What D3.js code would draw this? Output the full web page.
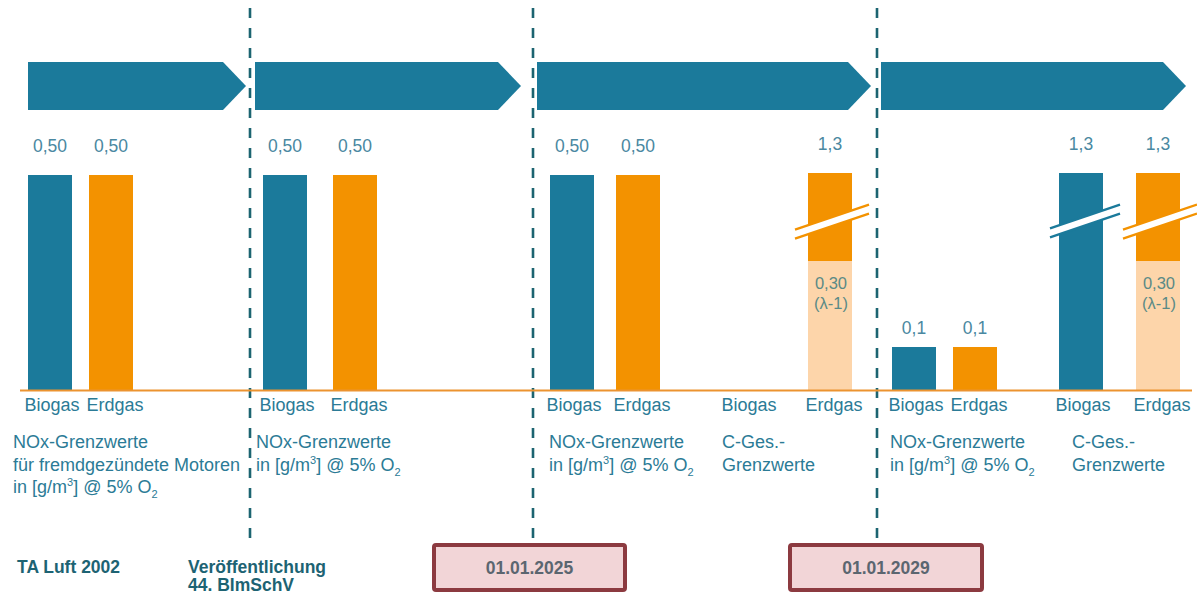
<!DOCTYPE html>
<html><head><meta charset="utf-8">
<script src="https://cdn.jsdelivr.net/npm/d3@7"></script>
<style>
body{margin:0;background:#fff;}
svg{display:block;font-family:"Liberation Sans",Arial,Helvetica,sans-serif;}
</style>
</head><body>
<svg id="chart" width="1197" height="595"></svg>
<script>
// ---------------- DATA ----------------
const categories = ["Biogas", "Erdgas"];
const groups = ["TA Luft 2002 NOx", "44. BImSchV NOx", "2025 NOx", "2025 C-Ges.", "2029 NOx", "2029 C-Ges."];
const biogasValues = [0.50, 0.50, 0.50, null, 0.1, 1.3];
const erdgasValues = [0.50, 0.50, 0.50, 1.3, 0.1, 1.3];
const biogasLabels = ["0,50", "0,50", "0,50", "", "0,1", "1,3"];
const erdgasLabels = ["0,50", "0,50", "0,50", "1,3", "0,1", "1,3"];
const erdgasLambdaValues = [null, null, null, 0.30, null, 0.30];
const lambdaLabelLines = ["0,30", "(λ-1)"];
const groupDescriptions = [
  ["NOx-Grenzwerte", "für fremdgezündete Motoren", "in [g/m³] @ 5% O₂"],
  ["NOx-Grenzwerte", "in [g/m³] @ 5% O₂"],
  ["NOx-Grenzwerte", "in [g/m³] @ 5% O₂"],
  ["C-Ges.-", "Grenzwerte"],
  ["NOx-Grenzwerte", "in [g/m³] @ 5% O₂"],
  ["C-Ges.-", "Grenzwerte"]
];
const events = [["TA Luft 2002"], ["Veröffentlichung", "44. BImSchV"], ["01.01.2025"], ["01.01.2029"]];
const eventIsDeadline = [false, false, true, true];
const axisBreakValue = 0.39;   // where the broken bars are cut

// ---------------- LAYOUT ----------------
const baseY = 390;
const barW = 44;
const groupSpans = [[28, 133], [263, 377], [550, 660], [725, 852], [892, 997], [1059, 1180]];
const dividerX = [250, 533, 877];
const arrowStarts = [28, 255, 537, 881];
const arrowTips = [246, 521, 871, 1186];
const C = {
  blue: "#1b7a9b", orange: "#f39200", light: "#fdd5aa",
  text: "#2b7b96", value: "#4a88a1", lambda: "#5a8a86",
  dark: "#1d6373", divider: "#1c6471", boxFill: "#f2d5d7", boxStroke: "#8c3a40", boxText: "#5b6670",
  base: "#ec9330"
};

const svg = d3.select("#chart");
const y = d3.scaleLinear().domain([0, 0.5, 1.3]).range([baseY, 175, 173]);

// build rows
const rows = [];
groups.forEach((g, i) => {
  const span = groupSpans[i];
  const R = span[1] - span[0];
  const p = 1 - barW / (R - barW);
  const x = d3.scaleBand().domain(categories).range(span).paddingInner(p).paddingOuter(0);
  categories.forEach(cat => {
    const isBio = cat === "Biogas";
    rows.push({
      group: g, gi: i, cat,
      value: isBio ? biogasValues[i] : erdgasValues[i],
      label: isBio ? biogasLabels[i] : erdgasLabels[i],
      lambda: isBio ? null : erdgasLambdaValues[i],
      x0: x(cat), bw: x.bandwidth()
    });
  });
});

// ---------- divider lines ----------
svg.selectAll("line.div").data(dividerX).join("line")
  .attr("x1", d => d).attr("x2", d => d)
  .attr("y1", 8).attr("y2", (d, i) => i === 0 ? 546 : 548)
  .attr("stroke", C.divider).attr("stroke-width", 2.6)
  .attr("stroke-dasharray", "10,10");

// ---------- arrows ----------
const aTop = 62, aBot = 110, aMid = (aTop + aBot) / 2, tipLen = 23;
svg.selectAll("path.arrow").data(arrowStarts).join("path")
  .attr("fill", C.blue)
  .attr("d", (d, i) => {
    const t = arrowTips[i];
    return `M${d},${aTop}L${t - tipLen},${aTop}L${t},${aMid}L${t - tipLen},${aBot}L${d},${aBot}Z`;
  });

// ---------- bars ----------
const barRows = rows.filter(r => r.value != null);
svg.selectAll("rect.bar").data(barRows).join("rect")
  .attr("x", r => r.x0).attr("width", r => r.bw)
  .attr("y", r => y(r.value)).attr("height", r => baseY - y(r.value))
  .attr("fill", r => r.cat === "Biogas" ? C.blue : C.orange);

// lambda (light) segments
const lamRows = rows.filter(r => r.lambda != null);
svg.selectAll("rect.lam").data(lamRows).join("rect")
  .attr("x", r => r.x0).attr("width", r => r.bw)
  .attr("y", r => y(r.lambda)).attr("height", r => baseY - y(r.lambda))
  .attr("fill", C.light);

// axis break marks
const slope = -0.34, gapHalf = 4.5;
const brk = svg.selectAll("g.brk").data(barRows.filter(r => r.value > 0.5)).join("g");
brk.each(function(r) {
  const g = d3.select(this);
  const cx = r.x0 + r.bw / 2, cy = y(axisBreakValue);
  const xa = r.x0 - (r.cat === "Biogas" ? 9 : 13), xb = r.x0 + r.bw + 17;
  const yy = (xv, off) => cy + (xv - cx) * slope + off;
  g.append("path")
    .attr("d", `M${xa},${yy(xa, -gapHalf)}L${xb},${yy(xb, -gapHalf)}L${xb},${yy(xb, gapHalf)}L${xa},${yy(xa, gapHalf)}Z`)
    .attr("fill", "#fff");
  [-gapHalf, gapHalf].forEach(off => {
    g.append("line").attr("x1", xa).attr("x2", xb)
      .attr("y1", yy(xa, off)).attr("y2", yy(xb, off))
      .attr("stroke", r.cat === "Biogas" ? C.blue : C.orange).attr("stroke-width", 2.4);
  });
});

// baseline
svg.append("line").attr("x1", 20).attr("x2", 1192).attr("y1", baseY + 0.5).attr("y2", baseY + 0.5)
  .attr("stroke", C.base).attr("stroke-width", 2);

// value labels
svg.selectAll("text.val").data(barRows).join("text")
  .attr("x", r => r.x0 + r.bw / 2)
  .attr("y", r => y(r.value) - (r.value >= 0.5 ? 23 : 13))
  .attr("text-anchor", "middle").attr("font-size", 17.5).attr("fill", C.value)
  .text(r => r.label);

// lambda labels
svg.selectAll("text.lamlab").data(lamRows).join("text")
  .attr("x", r => r.x0 + r.bw / 2 + 1)
  .attr("y", r => y(r.lambda) + 28)
  .attr("text-anchor", "middle").attr("font-size", 16.5).attr("fill", C.lambda)
  .selectAll("tspan").data(lambdaLabelLines).join("tspan")
  .attr("x", function() { return d3.select(this.parentNode).attr("x"); })
  .attr("dy", (d, i) => i === 0 ? 0 : 20)
  .text(d => d);

// category labels
svg.selectAll("text.cat").data(rows).join("text")
  .attr("x", r => r.x0 + r.bw / 2 + (r.cat === "Erdgas" ? 4 : 2))
  .attr("y", 411)
  .attr("text-anchor", "middle").attr("font-size", 18).attr("fill", C.text)
  .text(r => r.cat);

// group descriptions (with super/subscripts)
function richLine(sel, str) {
  const parts = str.split(/([³₂])/);
  let shift = 0;
  parts.forEach(p => {
    if (!p) return;
    if (p === "³") {
      sel.append("tspan").attr("font-size", 11).attr("dy", -7 - shift).text("3"); shift = -7;
    } else if (p === "₂") {
      sel.append("tspan").attr("font-size", 11).attr("dy", 5 - shift).text("2"); shift = 5;
    } else {
      sel.append("tspan").attr("dy", -shift).text(p); shift = 0;
    }
  });
}
const descX = [13, 256, 549, 722, 890, 1072];
groupDescriptions.forEach((lines, i) => {
  lines.forEach((ln, j) => {
    const t = svg.append("text").attr("x", descX[i]).attr("y", 448 + j * 22.5)
      .attr("font-size", 18).attr("fill", C.text);
    richLine(t, ln);
  });
});

// events
const evBoxes = [null, null, [432, 627], [788, 984]];
const evTextX = [17, 188];
events.forEach((ev, i) => {
  if (eventIsDeadline[i]) {
    const b = evBoxes[i];
    svg.append("rect").attr("x", b[0] + 2).attr("y", 545).attr("width", b[1] - b[0] - 4).attr("height", 45)
      .attr("rx", 2).attr("fill", C.boxFill).attr("stroke", C.boxStroke).attr("stroke-width", 4);
    svg.append("text").attr("x", (b[0] + b[1]) / 2).attr("y", 574).attr("text-anchor", "middle")
      .attr("font-size", 17.5).attr("font-weight", "bold").attr("fill", C.boxText).text(ev[0]);
  } else {
    ev.forEach((ln, j) => {
      svg.append("text").attr("x", evTextX[i]).attr("y", 573 + j * 18)
        .attr("font-size", 17.5).attr("font-weight", "bold").attr("fill", C.dark).text(ln);
    });
  }
});
</script>
</body></html>
